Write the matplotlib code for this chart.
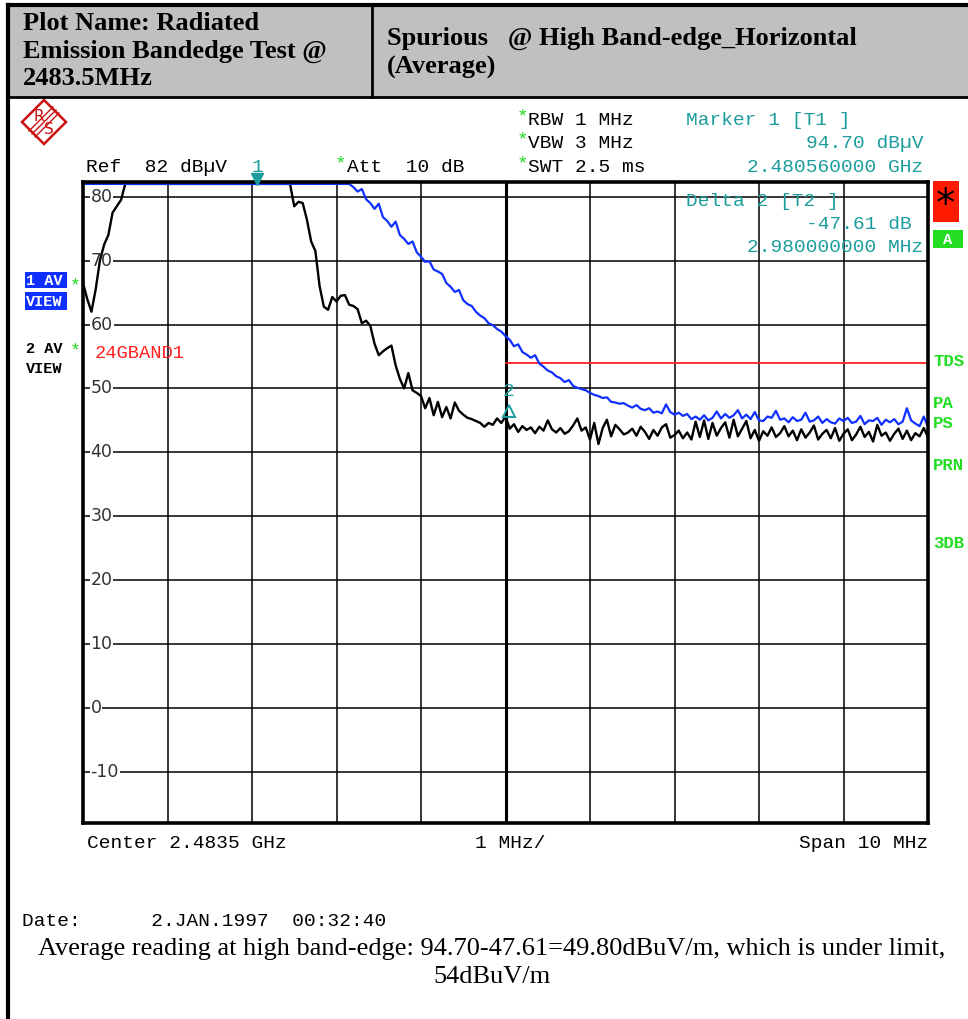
import numpy as np
import matplotlib
matplotlib.use("Agg")
import matplotlib.pyplot as plt
from matplotlib.patches import Rectangle, Polygon

# sweep settings (GHz / dBuV)
f_start = 2.4785
f_stop = 2.4885
f_center = 2.4835
ref_level = 82
y_bottom = -18
y_ticks = [80, 70, 60, 50, 40, 30, 20, 10, 0, -10]
limit_db = 54
marker1_freq = 2.48056
marker1_level = 94.70
delta2_freq = 0.00298
delta2_db = -47.61

# trace 2 (black), one value per 0.05 MHz
black_db = [
    66.5, 64.0, 62.0, 65.5, 70.0, 72.5, 74.0, 77.5, 78.5, 79.5,
    82.0, 82.0, 82.0, 82.0, 82.0, 82.0, 82.0, 82.0, 82.0, 82.0,
    82.0, 82.0, 82.0, 82.0, 82.0, 82.0, 82.0, 82.0, 82.0, 82.0,
    82.0, 82.0, 82.0, 82.0, 82.0, 82.0, 82.0, 82.0, 82.0, 82.0,
    82.0, 82.0, 82.0, 82.0, 82.0, 82.0, 82.0, 82.0, 82.0, 82.0,
    78.5, 79.2, 79.0, 76.4, 73.0, 71.5, 66.0, 62.8, 62.3, 64.3,
    63.6, 64.5, 64.6, 63.1, 62.9, 62.4, 60.2, 60.6, 59.8, 57.0,
    55.2, 55.8, 56.3, 56.7, 53.6, 51.5, 50.0, 52.4, 49.7, 49.3,
    48.8, 46.9, 48.5, 45.8, 47.9, 45.5, 47.1, 45.3, 47.8, 46.5,
    45.9, 45.4, 45.2, 44.9, 44.6, 44.0, 44.6, 44.3, 45.3, 44.6,
    45.6, 43.7, 44.4, 43.2, 44.1, 43.5, 43.9, 43.0, 44.0, 43.4,
    45.0, 43.6, 43.1, 43.8, 42.9, 43.3, 44.2, 45.3, 43.4, 43.9,
    42.0, 44.6, 41.3, 43.8, 45.1, 42.5, 44.3, 43.6, 42.8, 43.1,
    43.7, 42.6, 44.0, 43.2, 42.1, 43.5, 42.6, 43.9, 44.4, 42.3,
    42.7, 43.4, 42.2, 43.1, 42.0, 44.8, 42.4, 45.0, 42.1, 44.6,
    42.6, 43.8, 44.7, 42.3, 45.1, 42.5, 43.7, 44.9, 42.2, 43.5,
    41.8, 43.3, 42.6, 43.9, 42.4, 43.0, 44.1, 42.5, 43.4, 41.9,
    43.6, 42.3, 43.1, 44.2, 42.0, 42.9, 43.5, 42.2, 43.8, 41.8,
    42.9, 43.6, 41.9, 42.8, 44.0, 42.4, 43.2, 41.7, 44.3, 42.6,
    43.1, 41.8, 42.9, 43.7, 42.1, 43.4, 41.9, 43.0, 42.5, 43.8,
    42.4,
]

# trace 1 (blue)
blue_db = [
    82.0, 82.0, 82.0, 82.0, 82.0, 82.0, 82.0, 82.0, 82.0, 82.0,
    82.0, 82.0, 82.0, 82.0, 82.0, 82.0, 82.0, 82.0, 82.0, 82.0,
    82.0, 82.0, 82.0, 82.0, 82.0, 82.0, 82.0, 82.0, 82.0, 82.0,
    82.0, 82.0, 82.0, 82.0, 82.0, 82.0, 82.0, 82.0, 82.0, 82.0,
    82.0, 82.0, 82.0, 82.0, 82.0, 82.0, 82.0, 82.0, 82.0, 82.0,
    82.0, 82.0, 82.0, 82.0, 82.0, 82.0, 82.0, 82.0, 82.0, 82.0,
    82.0, 82.0, 82.0, 82.0, 81.5, 80.8, 81.2, 79.6, 79.0, 78.1,
    78.9, 76.8, 76.2, 75.3, 76.1, 74.0, 73.4, 72.6, 73.0, 71.3,
    70.6, 69.8, 69.9, 68.6, 68.3, 67.9, 66.5, 65.9, 65.1, 65.4,
    63.8, 63.2, 62.9, 62.0, 61.4, 61.0, 60.2, 59.9, 59.3, 58.9,
    58.2, 57.6, 56.6, 56.9, 55.7, 55.3, 54.8, 55.2, 53.9, 53.4,
    52.8, 52.5, 51.9, 51.6, 51.0, 51.3, 50.4, 50.1, 49.9, 49.7,
    49.3, 49.0, 48.8, 48.5, 48.6, 47.9, 47.8, 47.6, 47.7, 47.3,
    47.0, 47.4, 46.8, 46.6, 46.9, 46.2, 46.4, 46.1, 47.5, 46.3,
    45.9, 46.2, 45.7, 46.0, 45.2, 45.6, 45.1, 45.8, 45.0, 45.4,
    46.4, 45.3, 46.0, 45.4, 45.8, 46.6, 45.3, 45.9, 45.2, 46.3,
    45.0, 44.9, 45.6, 45.4, 46.5, 45.1, 45.3, 44.7, 45.5, 44.9,
    45.1, 46.2, 44.8, 45.0, 45.6, 44.6, 45.2, 44.7, 44.5, 45.3,
    44.9, 45.4, 44.6, 44.8, 45.7, 44.4, 45.0, 44.9, 45.4, 44.3,
    45.1, 44.7, 45.2, 44.4, 44.8, 46.9, 45.0, 44.5, 44.1, 45.6,
    44.0,
]

W, H = 968, 1019
TEAL = "#1c9c9c"
GREEN = "#22dd22"
MONO = "Liberation Mono"
SERIF = "Liberation Serif"
FS = 14

freq = np.linspace(f_start, f_stop, len(black_db))

fig = plt.figure(figsize=(W / 100, H / 100), dpi=100)

# main screen area
ax = fig.add_axes([83 / W, 1 - 823 / H, (928 - 83) / W, (823 - 182) / H])
ax.set_xlim(f_start, f_stop)
ax.set_ylim(y_bottom, ref_level + 0.3)
for v in np.linspace(f_start, f_stop, 11):
    ax.axvline(v, color="black", lw=1.1, zorder=1)
for v in y_ticks:
    ax.axhline(v, color="black", lw=1.1, zorder=1)
    ax.text(f_start + 0.00009, v, str(v), va="center", ha="left", fontsize=12.5,
            color="#333333", zorder=2,
            bbox=dict(fc="white", ec="none", pad=0.6))
ax.set_xticks([])
ax.set_yticks([])
for s in ax.spines.values():
    s.set_linewidth(2.6)
    s.set_zorder(10)

ax.axvline(f_center, color="black", lw=2.2, zorder=3)
ax.plot([f_center, f_stop], [limit_db, limit_db], color="#ff2020", lw=1.3, zorder=3)

ax.plot(freq, black_db, color="black", lw=1.7, zorder=4)
ax.plot(freq, blue_db, color="#1030ff", lw=1.6, zorder=5)

# markers
ax.plot([marker1_freq], [ref_level + 0.8], marker="v", ms=9, color=TEAL,
        clip_on=False, zorder=12)
ax.text(marker1_freq, ref_level + 2.6, "1", color=TEAL, ha="center", va="center",
        fontsize=FS, family=MONO, clip_on=False)
m2f = marker1_freq + delta2_freq
m2v = marker1_level + delta2_db
ax.plot([m2f], [m2v - 0.6], marker="^", ms=8, mfc="none", mec=TEAL, mew=1.4, zorder=12)
ax.text(m2f, m2v + 2.5, "2", color=TEAL, ha="center", va="center",
        fontsize=FS, family=MONO)

# overlay in pixel coordinates for the frame and annotations
ov = fig.add_axes([0, 0, 1, 1], zorder=20)
ov.set_xlim(0, W)
ov.set_ylim(H, 0)
ov.axis("off")
ov.patch.set_alpha(0)

# header table
ov.add_patch(Rectangle((8, 5), W - 8, 92, fc="#c0c0c0", ec="none"))
ov.plot([8, W], [5, 5], color="black", lw=3)
ov.plot([8, W], [97, 97], color="black", lw=2)
ov.plot([372, 372], [5, 97], color="black", lw=2)
ov.plot([8, 8], [5, H], color="black", lw=3)
ov.text(23, 51, "Plot Name: Radiated\nEmission Bandedge Test @\n2483.5MHz",
        family=SERIF, weight="bold", fontsize=19, va="center", ha="left",
        linespacing=1.22)
ov.text(387, 53, "Spurious   @ High Band-edge_Horizontal\n(Average)",
        family=SERIF, weight="bold", fontsize=19, va="center", ha="left",
        linespacing=1.3)

# R&S logo
cx, cy, r = 44, 122, 22
ov.add_patch(Polygon([(cx, cy - r), (cx + r, cy), (cx, cy + r), (cx - r, cy)],
                     closed=True, fc="none", ec="#cc1111", lw=1.8))
for d in (-3, 0, 3):
    ov.plot([cx - 12 + d, cx + 12 + d], [cy + 12 + d, cy - 12 + d], color="#cc1111", lw=1)
ov.text(cx - 5, cy - 6, "R", color="#cc1111", fontsize=11, ha="center", va="center")
ov.text(cx + 5, cy + 7, "S", color="#cc1111", fontsize=11, ha="center", va="center")

# instrument settings
ov.text(86, 167, "Ref  82 dB\u00b5V", family=MONO, fontsize=FS, va="center")
ov.text(335, 164, "*", color=GREEN, family=MONO, fontsize=FS, va="center")
ov.text(347, 167, "Att  10 dB", family=MONO, fontsize=FS, va="center")
for yy, txt in [(120, "RBW 1 MHz"), (143, "VBW 3 MHz"), (167, "SWT 2.5 ms")]:
    ov.text(517, yy - 3, "*", color=GREEN, family=MONO, fontsize=FS, va="center")
    ov.text(528, yy, txt, family=MONO, fontsize=FS, va="center")

ov.text(686, 120, "Marker 1 [T1 ]", color=TEAL, family=MONO, fontsize=FS, va="center")
ov.text(923, 143, f"{marker1_level:.2f} dB\u00b5V", color=TEAL, family=MONO,
        fontsize=FS, va="center", ha="right")
ov.text(923, 167, f"{marker1_freq:.9f} GHz", color=TEAL, family=MONO,
        fontsize=FS, va="center", ha="right")
ov.text(686, 201, "Delta 2 [T2 ]", color=TEAL, family=MONO, fontsize=FS, va="center")
ov.text(912, 224, f"{delta2_db:.2f} dB", color=TEAL, family=MONO,
        fontsize=FS, va="center", ha="right")
ov.text(923, 247, f"{delta2_freq * 1000:.9f} MHz", color=TEAL, family=MONO,
        fontsize=FS, va="center", ha="right")

# trace labels on the left
ov.add_patch(Rectangle((25, 272), 42, 16, fc="#1030ff", ec="none"))
ov.add_patch(Rectangle((25, 292), 42, 18, fc="#1030ff", ec="none"))
ov.text(26, 281, "1 AV", color="white", family=MONO, weight="bold", fontsize=11, va="center")
ov.text(26, 302, "VIEW", color="white", family=MONO, weight="bold", fontsize=11, va="center")
ov.text(70, 286, "*", color=GREEN, family=MONO, fontsize=13, va="center")
ov.text(26, 349, "2 AV", color="black", family=MONO, weight="bold", fontsize=11, va="center")
ov.text(26, 369, "VIEW", color="black", family=MONO, weight="bold", fontsize=11, va="center")
ov.text(70, 351, "*", color=GREEN, family=MONO, fontsize=13, va="center")
ov.text(95, 353, "24GBAND1", color="#ff2020", family=MONO, fontsize=13.5, va="center")

# status field on the right
ov.add_patch(Rectangle((933, 181), 26, 41, fc="#ff1a00", ec="none"))
ov.text(946, 205, "*", color="black", fontsize=28, ha="center", va="center")
ov.add_patch(Rectangle((933, 230), 30, 18, fc="#22dd22", ec="none"))
ov.text(948, 240, "A", color="white", family=MONO, weight="bold", fontsize=11,
        ha="center", va="center")
for yy, txt in [(361, "TDS"), (403, "PA"), (423, "PS"), (465, "PRN"), (543, "3DB")]:
    ov.text(933, yy, txt, color=GREEN, family=MONO, weight="bold", fontsize=12.5, va="center")

# frequency axis annotation
ov.text(87, 844, f"Center {f_center} GHz", family=MONO, fontsize=FS, va="center")
ov.text(510, 844, "1 MHz/", family=MONO, fontsize=FS, va="center", ha="center")
ov.text(928, 844, f"Span {round((f_stop - f_start) * 1000)} MHz", family=MONO,
        fontsize=FS, va="center", ha="right")

ov.text(22, 922, "Date:      2.JAN.1997  00:32:40", family=MONO, fontsize=FS, va="center")
ov.text(492, 963,
        "Average reading at high band-edge: 94.70-47.61=49.80dBuV/m, which is under limit,\n54dBuV/m",
        family=SERIF, fontsize=19, va="center", ha="center", linespacing=1.36)

fig.savefig("out.png", dpi=100)
